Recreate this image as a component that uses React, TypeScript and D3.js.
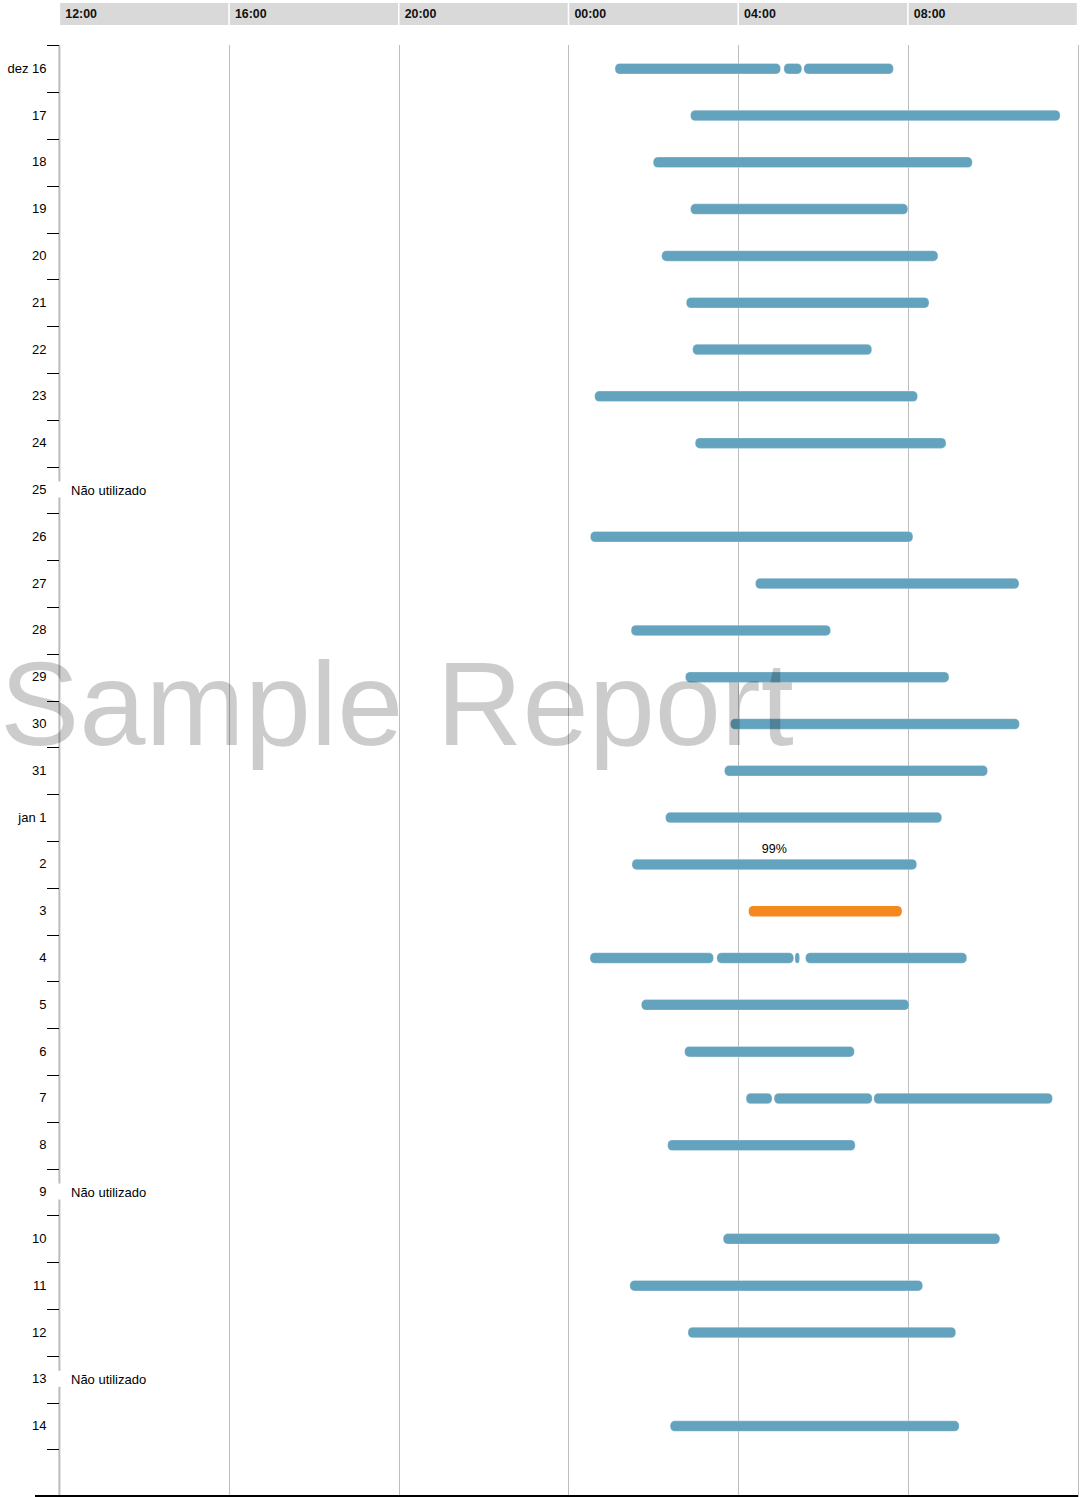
import React from "react";
import * as d3 from "d3";

// Row labels (one row per day, plus one trailing empty row)
const days: string[] = [
  "dez 16", "17", "18", "19", "20", "21", "22", "23", "24", "25", "26", "27", "28", "29", "30", "31",
  "jan 1", "2", "3", "4", "5", "6", "7", "8", "9", "10", "11", "12", "13", "14", "",
];

// Time axis: hours relative to midnight
const tickHours: number[] = [-12, -8, -4, 0, 4, 8, 12];
const tickLabels: string[] = ["12:00", "16:00", "20:00", "00:00", "04:00", "08:00"];

// Segments: [day label, start hour, end hour] (hours relative to midnight)
const normalSegments: [string, number, number][] = [
  ["dez 16", 1.1, 5.0], ["dez 16", 5.08, 5.5], ["dez 16", 5.55, 7.66],
  ["17", 2.88, 11.59],
  ["18", 2.0, 9.52],
  ["19", 2.88, 8.0],
  ["20", 2.2, 8.71],
  ["21", 2.78, 8.5],
  ["22", 2.93, 7.15],
  ["23", 0.62, 8.23],
  ["24", 2.99, 8.9],
  ["26", 0.52, 8.12],
  ["27", 4.41, 10.62],
  ["28", 1.48, 6.18],
  ["29", 2.76, 8.97],
  ["30", 3.82, 10.63],
  ["31", 3.68, 9.88],
  ["jan 1", 2.29, 8.8],
  ["2", 1.5, 8.21],
  ["4", 0.51, 3.42], ["4", 3.5, 5.31], ["4", 5.34, 5.45], ["4", 5.59, 9.39],
  ["5", 1.72, 8.03],
  ["6", 2.74, 6.74],
  ["7", 4.19, 4.8], ["7", 4.85, 7.16], ["7", 7.2, 11.41],
  ["8", 2.34, 6.76],
  ["10", 3.65, 10.17],
  ["11", 1.45, 8.35],
  ["12", 2.82, 9.13],
  ["14", 2.4, 9.21],
];

const alertSegments: [string, number, number][] = [["3", 4.25, 7.86]];

const unusedDays: string[] = ["25", "9", "13"];
const unusedText = "Não utilizado";

const percentLabels: [string, string][] = [["2", "99%"]];

const BLUE = "#64a3bd";
const ORANGE = "#f5891f";
const FONT = "'Liberation Sans', Arial, sans-serif";

export default function App() {
  const W = 1085;
  const H = 1497;
  const x = d3.scaleLinear().domain([-12, 12]).range([59.25, 1077.5]);
  const y = d3
    .scaleBand<number>()
    .domain(days.map((_, i) => i))
    .range([45.3, 1496.3])
    .padding(0);
  const rowIndex = (label: string) => days.indexOf(label);
  const cy = (label: string) => (y(rowIndex(label)) as number) + y.bandwidth() / 2;
  const barH = 10.5;

  const boundaries = days.map((_, i) => y(i) as number);

  return (
    <svg
      width={W}
      height={H}
      style={{ position: "absolute", left: 0, top: 0, display: "block" }}
      fontFamily={FONT}
    >
      <rect x={0} y={0} width={W} height={H} fill="#fff" />
      {/* header */}
      {tickHours.slice(0, -1).map((h, i) => (
        <g key={"hdr" + i}>
          <rect
            x={x(h) + 0.9}
            y={3}
            width={x(tickHours[i + 1]) - x(h) - 1.6}
            height={22}
            fill="#d9d9d9"
          />
          <text x={x(h) + 6} y={18} fontSize={12.4} fontWeight="bold" fill="#111">
            {tickLabels[i]}
          </text>
        </g>
      ))}
      {/* grid lines */}
      {tickHours.slice(1).map((h, i) => (
        <line
          key={"g" + i}
          x1={Math.round(x(h)) + 0.5}
          x2={Math.round(x(h)) + 0.5}
          y1={45}
          y2={H}
          stroke="#bdbdbd"
          strokeWidth={1}
        />
      ))}
      {/* left axis line */}
      <line x1={59.4} x2={59.4} y1={45} y2={H} stroke="#bbbbbb" strokeWidth={2} />
      {/* row ticks */}
      {boundaries.map((b, i) => (
        <line
          key={"t" + i}
          x1={47}
          x2={59}
          y1={Math.round(b) + 0.5}
          y2={Math.round(b) + 0.5}
          stroke="#000"
          strokeWidth={1}
        />
      ))}
      {/* row labels */}
      {days.map((d, i) =>
        d ? (
          <text
            key={"l" + i}
            x={46.5}
            y={(y(i) as number) + y.bandwidth() / 2 - 0.5}
            dy="0.35em"
            textAnchor="end"
            fontSize={13}
            fill="#000"
          >
            {d}
          </text>
        ) : null
      )}
      {/* unused days */}
      {unusedDays.map((d) => (
        <g key={"u" + d}>
          <rect x={58} y={cy(d) - 8.5} width={92} height={16} fill="#fff" />
          <text x={71} y={cy(d)} dy="0.35em" fontSize={13} fill="#000">
            {unusedText}
          </text>
        </g>
      ))}
      {/* bars */}
      {normalSegments.map(([d, s, e], i) => (
        <rect
          key={"b" + i}
          x={x(s)}
          y={cy(d) - barH / 2}
          width={x(e) - x(s)}
          height={barH}
          rx={4.5}
          ry={4.5}
          fill={BLUE}
          stroke="#fff"
          strokeOpacity={0.35}
          strokeWidth={0.8}
        />
      ))}
      {alertSegments.map(([d, s, e], i) => (
        <rect
          key={"a" + i}
          x={x(s)}
          y={cy(d) - barH / 2}
          width={x(e) - x(s)}
          height={barH}
          rx={4.5}
          ry={4.5}
          fill={ORANGE}
        />
      ))}
      {/* percent labels */}
      {percentLabels.map(([d, t]) => {
        const seg = normalSegments.find((sg) => sg[0] === d)!;
        return (
          <text
            key={"p" + d}
            x={(x(seg[1]) + x(seg[2])) / 2}
            y={cy(d) - 16}
            dy="0.35em"
            textAnchor="middle"
            fontSize={12.5}
            fill="#000"
          >
            {t}
          </text>
        );
      })}
      {/* bottom axis */}
      <line x1={35} x2={1078} y1={1496} y2={1496} stroke="#000" strokeWidth={2} />
      {/* watermark */}
      <text x={0} y={745} fontSize={119} fill="#000" fillOpacity={0.2}>
        Sample Report
      </text>
    </svg>
  );
}
